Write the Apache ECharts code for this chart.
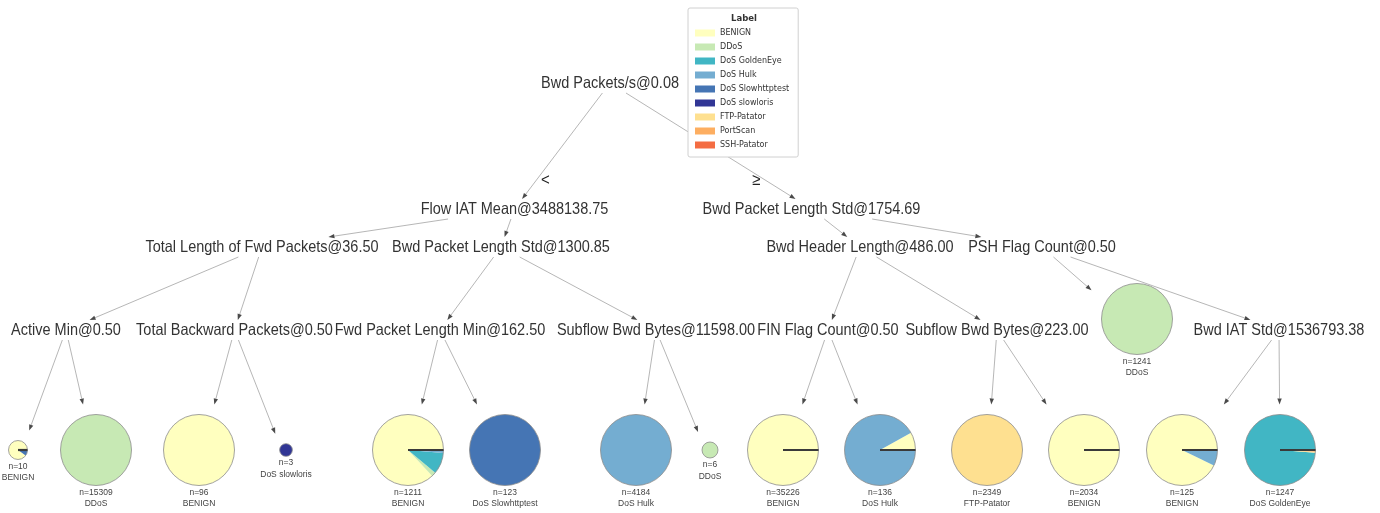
<!DOCTYPE html>
<html><head><meta charset="utf-8">
<script src="https://cdn.jsdelivr.net/npm/echarts@6/dist/echarts.min.js"></script>
<style>html,body{margin:0;padding:0;background:#fff}#c{width:1380px;height:513px}</style>
</head><body><div id="c"></div>
<script>
// ---- data ----
const classNames = ['BENIGN','DDoS','DoS GoldenEye','DoS Hulk','DoS Slowhttptest','DoS slowloris','FTP-Patator','PortScan','SSH-Patator'];
const classColors = ['#ffffbf','#c7e9b4','#41b6c4','#74add1','#4575b4','#313695','#fee090','#fdae61','#f46d43'];

// tree nodes (index = node id)
const nodeLabels = [
  'Bwd Packets/s@0.08',
  'Flow IAT Mean@3488138.75', 'Bwd Packet Length Std@1754.69',
  'Total Length of Fwd Packets@36.50', 'Bwd Packet Length Std@1300.85',
  'Bwd Header Length@486.00', 'PSH Flag Count@0.50',
  'Active Min@0.50', 'Total Backward Packets@0.50',
  'Fwd Packet Length Min@162.50', 'Subflow Bwd Bytes@11598.00',
  'FIN Flag Count@0.50', 'Subflow Bwd Bytes@223.00',
  '', 'Bwd IAT Std@1536793.38',
  '', '', '', '', '', '', '', '', '', '', '', '', '', ''
];
const nodeParent = [-1, 0, 0, 1, 1, 2, 2, 3, 3, 4, 4, 5, 5, 6, 6,
  7, 7, 8, 8, 9, 9, 10, 10, 11, 11, 12, 12, 14, 14];
const edgeLabels = ['', '<', '\u2265'];
// class counts at leaves (order of classNames); null = split node
const nodeCounts = [
  null, null, null, null, null, null, null, null, null, null, null, null, null,
  [0,1241,0,0,0,0,0,0,0],
  null,
  [9,0,0,0,1,0,0,0,0],
  [0,15309,0,0,0,0,0,0,0],
  [96,0,0,0,0,0,0,0,0],
  [0,0,0,0,0,3,0,0,0],
  [1053,24,118,10,4,2,0,0,0],
  [0,0,0,0,123,0,0,0,0],
  [0,0,0,4184,0,0,0,0,0],
  [0,6,0,0,0,0,0,0,0],
  [35120,20,30,40,6,5,3,2,0],
  [11,0,0,125,0,0,0,0,0],
  [0,0,0,0,0,0,2349,0,0],
  [2028,3,0,3,0,0,0,0,0],
  [116,0,0,9,0,0,0,0,0],
  [2,0,1229,1,0,0,5,10,0]
];

// ---- layout (tree drawing positions) ----
const nodeRank = [0,1,1,2,2,2,2,3,3,3,3,3,3,3,3,4,4,4,4,4,4,4,4,4,4,4,4,4,4];
const rankY = [83, 209, 247, 330, 461];
const layoutX = [610, 514.5, 811.5, 262, 501, 860, 1042, 66, 234.5, 440, 656, 828, 997, 1137, 1279,
  18, 96, 199, 286, 408, 505, 636, 710, 783, 880, 987, 1084, 1182, 1280];

// ---- helpers ----
const FONT = '"Liberation Sans", Arial, sans-serif';
const LABEL_SIZE = 14.5;
const mctx = document.createElement('canvas').getContext('2d');
function textWidth(t, size) { mctx.font = size + 'px "Liberation Sans"'; return mctx.measureText(t).width; }
function total(c) { return c.reduce((a, b) => a + b, 0); }
function leafRadius(n) { return n < 20 ? 4.4 * Math.cbrt(n) : 35.5; }
function majority(c) { let m = 0; c.forEach((v, k) => { if (v > c[m]) m = k; }); return m; }
function nodeBox(i) {
  const c = nodeCounts[i];
  if (c) { const r = leafRadius(total(c)); return [r + 10, r + 21]; }
  return [textWidth(nodeLabels[i], LABEL_SIZE) / 2 + 2, 10];
}
function clip(c, o, box) {
  const dx = o[0] - c[0], dy = o[1] - c[1];
  const tx = dx ? box[0] / Math.abs(dx) : Infinity;
  const ty = dy ? box[1] / Math.abs(dy) : Infinity;
  const t = Math.min(tx, ty);
  return [c[0] + dx * t, c[1] + dy * t];
}

function renderNode(params, api) {
  const i = api.value(2);
  const p = api.coord([api.value(0), api.value(1)]);
  const children = [];
  const counts = nodeCounts[i];
  if (!counts) {
    children.push({ type: 'text', x: p[0], y: p[1], scaleY: 1.15, z2: 5,
      style: { text: nodeLabels[i], fill: '#333', fontSize: LABEL_SIZE, fontFamily: FONT, align: 'center', verticalAlign: 'middle' } });
  } else {
    const n = total(counts);
    const r = leafRadius(n);
    const cx = p[0], cy = p[1] - 11;
    children.push({ type: 'circle', shape: { cx: cx, cy: cy, r: r }, style: { fill: 'none', stroke: '#8c8c8c', lineWidth: 0.8 } });
    if (counts.filter(v => v > 0).length > 1) {
      children.push({ type: 'line', shape: { x1: cx, y1: cy, x2: cx + r, y2: cy }, style: { stroke: '#3a3a3a', lineWidth: 2.2 } });
    }
    children.push({ type: 'text', x: cx, y: cy + r + 6.5, scaleY: 1.1,
      style: { text: 'n=' + n, fill: '#444', fontSize: 8.5, fontFamily: FONT, align: 'center', verticalAlign: 'middle' } });
    children.push({ type: 'text', x: cx, y: cy + r + 18, scaleY: 1.1,
      style: { text: classNames[majority(counts)], fill: '#444', fontSize: 8.5, fontFamily: FONT, align: 'center', verticalAlign: 'middle' } });
  }
  const par = nodeParent[i];
  if (par >= 0) {
    const pp = api.coord([layoutX[par], rankY[nodeRank[par]]]);
    const start = clip(pp, p, nodeBox(par));
    const tip = clip(p, pp, nodeBox(i));
    const dx = tip[0] - start[0], dy = tip[1] - start[1];
    const len = Math.sqrt(dx * dx + dy * dy);
    const ux = dx / len, uy = dy / len;
    const bx = tip[0] - ux * 6, by = tip[1] - uy * 6;
    children.push({ type: 'line', shape: { x1: start[0], y1: start[1], x2: bx, y2: by }, style: { stroke: '#a3a3a3', lineWidth: 0.8 } });
    children.push({ type: 'polygon', shape: { points: [tip, [bx - uy * 2.2, by + ux * 2.2], [bx + uy * 2.2, by - ux * 2.2]] }, style: { fill: '#4a4a4a' } });
    const lab = edgeLabels[i];
    if (lab) {
      const lx = pp[0] + (p[0] - pp[0]) * 0.77 + (p[0] < pp[0] ? 9 : -9);
      const ly = pp[1] + (p[1] - pp[1]) * 0.77;
      children.push({ type: 'text', x: lx, y: ly, scaleY: 1.1,
        style: { text: lab, fill: '#222', fontSize: 15, fontFamily: FONT, align: 'center', verticalAlign: 'middle' } });
    }
  }
  return { type: 'group', children: children };
}

const nodeData = layoutX.map((x, i) => [x, rankY[nodeRank[i]], i]);

const baseSeries = [{
  type: 'custom', name: 'tree', coordinateSystem: 'cartesian2d', z: 3, silent: true, clip: false,
  encode: { x: 0, y: 1 }, renderItem: renderNode, data: nodeData
}].concat(classNames.map((nm, k) => ({
  type: 'scatter', name: nm, data: [], itemStyle: { color: classColors[k], opacity: 1 }
})));

const chart = echarts.init(document.getElementById('c'));
const option = {
  animation: false,
  backgroundColor: '#fff',
  grid: { left: 0, right: 0, top: 0, bottom: 0, containLabel: false, show: false },
  xAxis: { type: 'value', min: 0, max: 1380, show: false },
  yAxis: { type: 'value', min: 0, max: 513, inverse: true, show: false },
  legend: {
    data: classNames, orient: 'vertical', left: 688, top: 8,
    padding: [20, 9, 7, 7], itemWidth: 20, itemHeight: 7, itemGap: 4, icon: 'rect',
    backgroundColor: '#fff', borderColor: '#d0d0d0', borderWidth: 1, borderRadius: 2,
    selectedMode: false, z: 8,
    textStyle: { fontSize: 8, fontFamily: 'DejaVu Sans', color: '#333', lineHeight: 10 }
  },
  graphic: [{ type: 'text', x: 744, y: 19, z: 20,
    style: { text: 'Label', fontSize: 8.5, fontWeight: 'bold', fontFamily: 'DejaVu Sans', fill: '#333', align: 'center', verticalAlign: 'middle' } }],
  series: baseSeries
};
chart.setOption(option);

const pieSeries = [];
nodeCounts.forEach((counts, i) => {
  if (!counts) return;
  const n = total(counts);
  const c = chart.convertToPixel({ gridIndex: 0 }, [layoutX[i], rankY[nodeRank[i]]]);
  pieSeries.push({
    type: 'pie', name: 'leaf' + i, z: 2, silent: true,
    center: [c[0], c[1] - 11], radius: leafRadius(n),
    startAngle: 0, clockwise: false, minAngle: 0, padAngle: 0,
    label: { show: false }, labelLine: { show: false }, emphasis: { disabled: true },
    itemStyle: { borderWidth: 0, borderRadius: 0 },
    data: counts.map((v, k) => ({ name: classNames[k], value: v, itemStyle: { color: classColors[k] } })).filter(d => d.value > 0)
  });
});
chart.setOption({ series: baseSeries.concat(pieSeries) });
</script></body></html>
